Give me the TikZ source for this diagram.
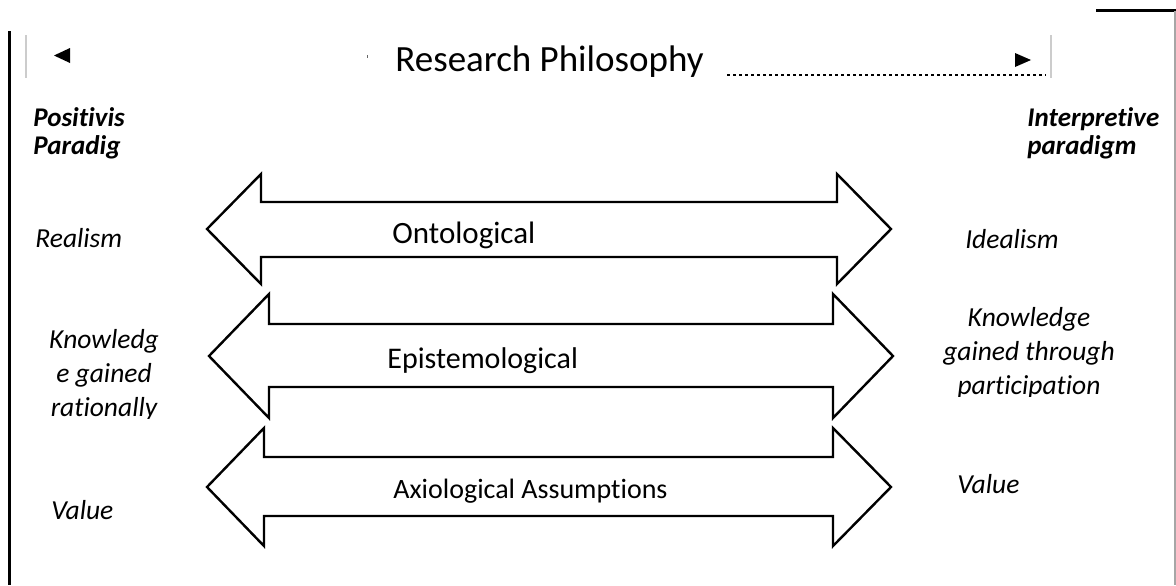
\documentclass[tikz,border=0pt]{standalone}
\usepackage{fontspec}
\setmainfont[Ligatures=NoCommon]{Carlito}
\usetikzlibrary{positioning}

\begin{document}
\begin{tikzpicture}[x=0.5pt,y=-0.5pt,
  blockarrow/.style={draw=black,line width=1.2pt,line join=miter},
  sidelabel/.style={font=\fontsize{13.75}{17}\selectfont\itshape,align=center,inner sep=0pt},
  paradigm/.style={font=\fontsize{13.5}{14}\selectfont\bfseries\itshape,align=left,inner sep=0pt},
  arrowlabel/.style={font=\fontsize{15.5}{18}\selectfont,inner sep=0pt}]
\useasboundingbox (0,0) rectangle (1176,585);
%%% frame of the screenshot
\draw[line width=1.5pt] (9,31) -- (9,585);
\draw[line width=1.5pt] (1096,10) -- (1176,10);
\draw[black!35,line width=0.8pt] (1175,11) -- (1175,585);
\draw[black!20,line width=0.6pt] (26,35) -- (26,78);
\draw[black!20,line width=0.6pt] (1051,35) -- (1051,78);
%
\fill[black] (54,55.5) -- (70,48) -- (70,63) -- cycle;
\fill[black] (1031,60) -- (1015,53) -- (1015,67) -- cycle;
\fill[black!60] (366.5,55) rectangle (367.5,58);
\node[anchor=base west,inner sep=0pt,font=\fontsize{18.5}{22}\selectfont] (title) at (395,71) {Research Philosophy};
\draw[line width=1pt,dash pattern=on 1.5pt off 1.5pt] (727,75) -- (1046,75);
%
\node[paradigm,anchor=base west] (positivist) at (33,154) {Positivis\\Paradig};
\node[paradigm,anchor=base west] (interpretive) at (1027,154) {Interpretive\\paradigm};
%%% the three double arrows
\draw[blockarrow] (207,229) -- (261,174) -- (261,202) -- (837,202) -- (837,174) -- (891,229)
  -- (837,284) -- (837,257) -- (261,257) -- (261,284) -- cycle;
\draw[blockarrow] (209,356) -- (269,294) -- (269,324) -- (833,324) -- (833,294) -- (893,356)
  -- (833,418) -- (833,387) -- (269,387) -- (269,418) -- cycle;
\draw[blockarrow] (207,487) -- (264,428) -- (264,457) -- (833,457) -- (833,428) -- (891,487)
  -- (833,546) -- (833,516) -- (264,516) -- (264,546) -- cycle;
\node[arrowlabel,anchor=base west] (onto) at (392,243) {Ontological};
\node[arrowlabel,anchor=base west,font=\fontsize{15}{18}\selectfont] (episte) at (387,368) {Epistemological};
\node[arrowlabel,anchor=base west,font=\fontsize{14}{18}\selectfont] (axio) at (393,498) {Axiological Assumptions};
%
\node[sidelabel,anchor=base west] (realism) at (35,247) {Realism};
\node[sidelabel,anchor=base] (idealism) at (1012,248) {Idealism};
\begin{scope}
\clip (30,300) rectangle (200,418);
\node[sidelabel,anchor=base] (rational) at (104,416) {Knowledg\\e gained\\rationally};
\end{scope}
\begin{scope}
\clip (920,290) rectangle (1150,396);
\node[sidelabel,anchor=base] (particip) at (1029,394) {Knowledge\\gained through\\participation};
\end{scope}
\node[sidelabel,anchor=base west] (valueleft) at (51,519) {Value};
\node[sidelabel,anchor=base west] (valueright) at (957,493) {Value};
\end{tikzpicture}
\end{document}
